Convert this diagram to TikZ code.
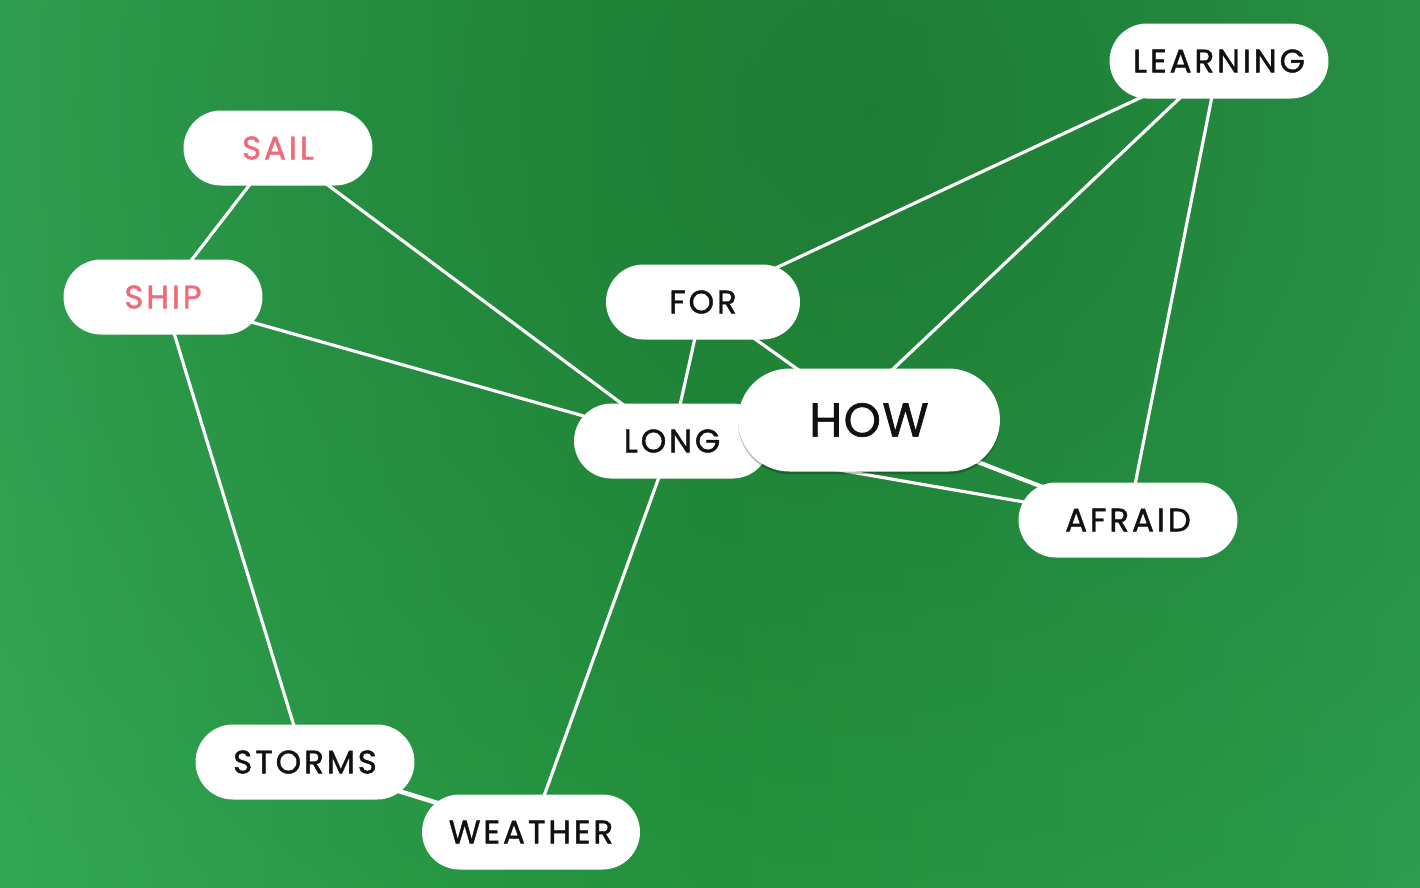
\documentclass[tikz,border=0pt]{standalone}
\usepackage{fontspec}
\setmainfont{Poppins}[LetterSpace=9.0, FakeBold=1.3]
\usetikzlibrary{shadows,fadings}

\definecolor{bgleft}{HTML}{33A655}
\definecolor{bgmid}{HTML}{259A40}
\definecolor{bgright}{HTML}{2EA352}
\definecolor{bgdark}{HTML}{1B6E2F}
\definecolor{ink}{HTML}{111111}
\definecolor{coral}{HTML}{F06B79}

\pgfdeclarelayer{bg}
\pgfdeclarelayer{edges}
\pgfsetlayers{bg,edges,main}

\tikzfading[name=glow, inner color=transparent!30, outer color=transparent!100]

\begin{document}
\begin{tikzpicture}[x=0.02cm,y=-0.02cm,
  word/.style={fill=white, rounded corners=0.75cm, minimum height=1.5cm,
    inner sep=0pt, text=ink, font=\fontsize{18.5}{20}\selectfont},
  hot/.style={text=coral},
  big/.style={minimum height=2.06cm, rounded corners=1.03cm,
    font=\fontsize{27}{30}\selectfont\addfontfeatures{LetterSpace=3.0},
    drop shadow={shadow xshift=0pt, shadow yshift=-1.5pt, opacity=0.25, fill=black}},
  link/.style={white, line width=1.8pt}]

\useasboundingbox (0,0) rectangle (1420,887);

% background
\begin{pgfonlayer}{bg}
  \shade[left color=bgleft, right color=bgright, middle color=bgmid]
    (0,0) rectangle (1420,887);
  \begin{scope}
    \clip (0,0) rectangle (1420,887);
    \fill[bgdark, path fading=glow, fit fading=true] (870,110) circle[radius=1100];
  \end{scope}
\end{pgfonlayer}

% words
\node[word, hot, minimum width=3.78cm] (sail) at (278,148) {SAIL};
\node[word, hot, minimum width=3.98cm] (ship) at (163,297) {SHIP};
\node[word, minimum width=3.88cm] (for) at (703,302) {FOR};
\node[word, minimum width=3.92cm] (long) at (672,441) {LONG};
\node[word, big, minimum width=5.24cm] (how) at (869,420) {HOW};
\node[word, minimum width=4.38cm] (learning) at (1219,61) {LEARNING};
\node[word, minimum width=4.38cm] (afraid) at (1128,520) {AFRAID};
\node[word, minimum width=4.38cm] (storms) at (305,762) {STORMS};
\node[word, minimum width=4.36cm] (weather) at (531,832) {WEATHER};

% connectors
\begin{pgfonlayer}{edges}
  \draw[link] (sail.center) -- (ship.center);
  \draw[link] (sail.center) -- (long.center);
  \draw[link] (ship.center) -- (long.center);
  \draw[link] (ship.center) -- (storms.center);
  \draw[link, line width=2.6pt] (storms.center) -- (weather.center);
  \draw[link] (long.center) -- (weather.center);
  \draw[link] (long.center) -- (for.center);
  \draw[link] (for.center) -- (how.center);
  \draw[link] (for.center) -- (learning.center);
  \draw[link] ([xshift=-0.6cm]how.center) -- (learning.center);
  \draw[link] (learning.center) -- (afraid.center);
  \draw[link, line width=2.4pt] (how.center) -- (afraid.center);
  \draw[link] (long.center) -- (afraid.center);
\end{pgfonlayer}
\end{tikzpicture}
\end{document}
